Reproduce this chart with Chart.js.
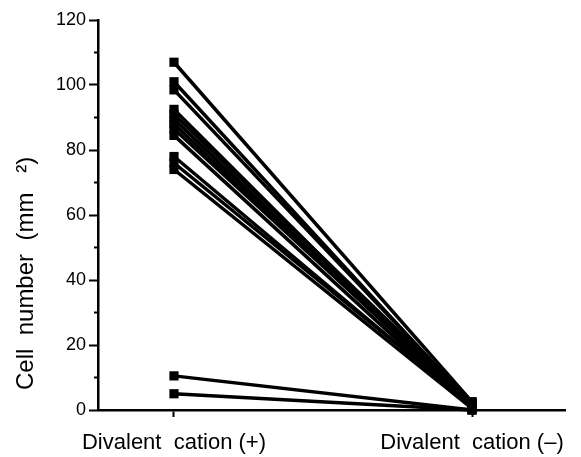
<!DOCTYPE html>
<html>
<head>
<meta charset="utf-8">
<script src="https://cdn.jsdelivr.net/npm/chart.js@4/dist/chart.umd.min.js"></script>
<style>
  html, body { margin: 0; padding: 0; background: #fff; }
  #wrap { width: 581px; height: 457px; }
</style>
</head>
<body>
<div id="wrap"><canvas id="c" width="581" height="457"></canvas></div>
<script>
const categories = ['Divalent  cation (+)', 'Divalent  cation (\u2013)'];
const withCation = [107, 101, 98.5, 92.5, 91, 89.5, 88, 86.5, 84.5, 78, 76, 74, 10.5, 5];
const withoutCation = [2.5, 1.5, 2, 1, 2.5, 1.5, 1, 2, 0.5, 1, 1.5, 0.5, 0, 0];
const yTicksMajor = [0, 20, 40, 60, 80, 100, 120];
const yTicksMinor = [10, 30, 50, 70, 90, 110];

const datasets = withCation.map((v, i) => ({
  data: [{x: 0, y: v}, {x: 1, y: withoutCation[i]}],
  borderColor: '#000',
  backgroundColor: '#000',
  borderWidth: 3.5,
  pointStyle: 'rect',
  pointRadius: 6.5,
  pointBorderWidth: 0,
  pointBackgroundColor: '#000',
  clip: false
}));

const minorTicks = {
  id: 'minorTicks',
  afterDraw(chart) {
    const s = chart.scales.y;
    const ctx = chart.ctx;
    ctx.save();
    ctx.strokeStyle = '#000';
    ctx.lineWidth = 2;
    yTicksMinor.forEach(v => {
      const py = s.getPixelForValue(v);
      ctx.beginPath();
      ctx.moveTo(s.right - 4, py);
      ctx.lineTo(s.right, py);
      ctx.stroke();
    });
    ctx.restore();
  }
};

new Chart(document.getElementById('c'), {
  type: 'line',
  data: { datasets },
  options: {
    responsive: false,
    animation: false,
    layout: { padding: { left: 0, top: 20, right: 16, bottom: 0 } },
    plugins: { legend: { display: false }, tooltip: { enabled: false } },
    scales: {
      x: {
        type: 'linear',
        min: -0.255,
        max: 1.312,
        afterBuildTicks(scale) { scale.ticks = [{value: 0}, {value: 1}]; },
        afterFit(scale) { scale.height = 47; },
        ticks: {
          callback: (v) => categories[v],
          color: '#000',
          font: { family: 'Liberation Sans, Arial, sans-serif', size: 22 },
          padding: 13,
          maxRotation: 0,
          autoSkip: false
        },
        grid: { display: true, drawOnChartArea: false, tickLength: 7, tickWidth: 2, tickColor: '#000' },
        border: { display: true, color: '#000', width: 2.5 }
      },
      y: {
        min: 0,
        max: 120,
        afterBuildTicks(scale) { scale.ticks = yTicksMajor.map(v => ({value: v})); },
        afterFit(scale) { scale.width = 98; },
        ticks: {
          color: '#000',
          font: { family: 'Liberation Sans, Arial, sans-serif', size: 18 },
          padding: 3
        },
        grid: { display: true, drawOnChartArea: false, tickLength: 9, tickWidth: 2, tickColor: '#000' },
        border: { display: true, color: '#000', width: 2.5 },
        title: {
          display: true,
          text: '   Cell  number  (mm   \u00B2)',
          align: 'start',
          color: '#000',
          font: { family: 'Liberation Sans, Arial, sans-serif', size: 24 },
          padding: { top: 12, bottom: 0 }
        }
      }
    }
  },
  plugins: [minorTicks]
});
</script>
</body>
</html>
